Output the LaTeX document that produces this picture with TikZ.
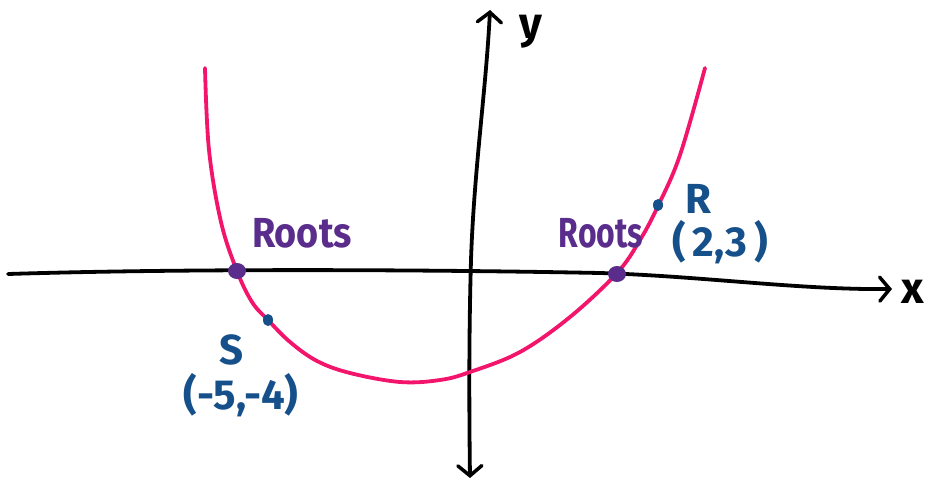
\documentclass[tikz,border=0pt]{standalone}
\usepackage{fontspec}
\setmainfont{Fira Sans}
\usetikzlibrary{arrows.meta}
\definecolor{curvepink}{HTML}{F2156B}
\definecolor{rootpurple}{HTML}{5A2D8C}
\definecolor{ptblue}{HTML}{16508A}
\tikzset{
  barb/.tip={Straight Barb[length=10pt,width=24pt,line width=3.5pt,line cap=round]},
  axis/.style={line width=3.8pt, line cap=round, black},
  rootlbl/.style={text=rootpurple, font=\fontsize{42}{42}\selectfont\bfseries, inner sep=0pt},
  ptlbl/.style={text=ptblue, font=\fontsize{42}{42}\selectfont\bfseries, inner sep=0pt},
  axlbl/.style={text=black, font=\fontsize{44}{44}\selectfont\bfseries, inner sep=0pt},
}
\begin{document}
\begin{tikzpicture}[x=1pt,y=-1pt]
\useasboundingbox (0,0) rectangle (927,482);
% axes
\coordinate (xl) at (8,274);
\coordinate (xm) at (600,273);
\coordinate (xr) at (892,289);
\coordinate (yt) at (490,10);
\coordinate (yb) at (470,478);
\draw[axis, -barb] (xl) .. controls (200,268) and (450,270) .. (xm) .. controls (700,276) and (800,290) .. (xr);
\draw[axis, barb-barb] (yb) .. controls (469,400) and (469,330) .. (471,260) .. controls (474,170) and (486,90) .. (yt);
\node[axlbl] (ylab) at (531,32) {y};
\node[axlbl] (xlab) at (913,292) {x};
% parabola
\draw[curvepink, line width=3.8pt, line cap=round] plot[smooth, tension=0.6] coordinates {
 (205,68) (209,150) (221,222) (237,271) (252,302) (268,320) (290,342) (317,361) (350,373) (400,382) (440,380) (470,372) (520,352) (570,317) (617,273) (640,240) (658,206) (680,155) (705,68)};
% roots
\fill[rootpurple] (237,271) ellipse (9pt and 8pt);
\fill[rootpurple] (617,274) ellipse (9pt and 8pt);
\node[rootlbl, xscale=0.9] (rl) at (302,233) {Roots};
\node[rootlbl, xscale=0.76] (rr) at (601,233) {Roots};
% points
\fill[ptblue] (268,320) ellipse (5pt and 6pt);
\fill[ptblue] (658,205) ellipse (5pt and 6pt);
\node[ptlbl] (slab) at (232,350) {S};
\node[ptlbl] (scoord) at (241,395) {(-5,-4)};
\node[ptlbl] (rlab) at (698,199) {R};
\node[ptlbl] (rcoord) at (720,242) {(\,2,3\,)};
\end{tikzpicture}
\end{document}
